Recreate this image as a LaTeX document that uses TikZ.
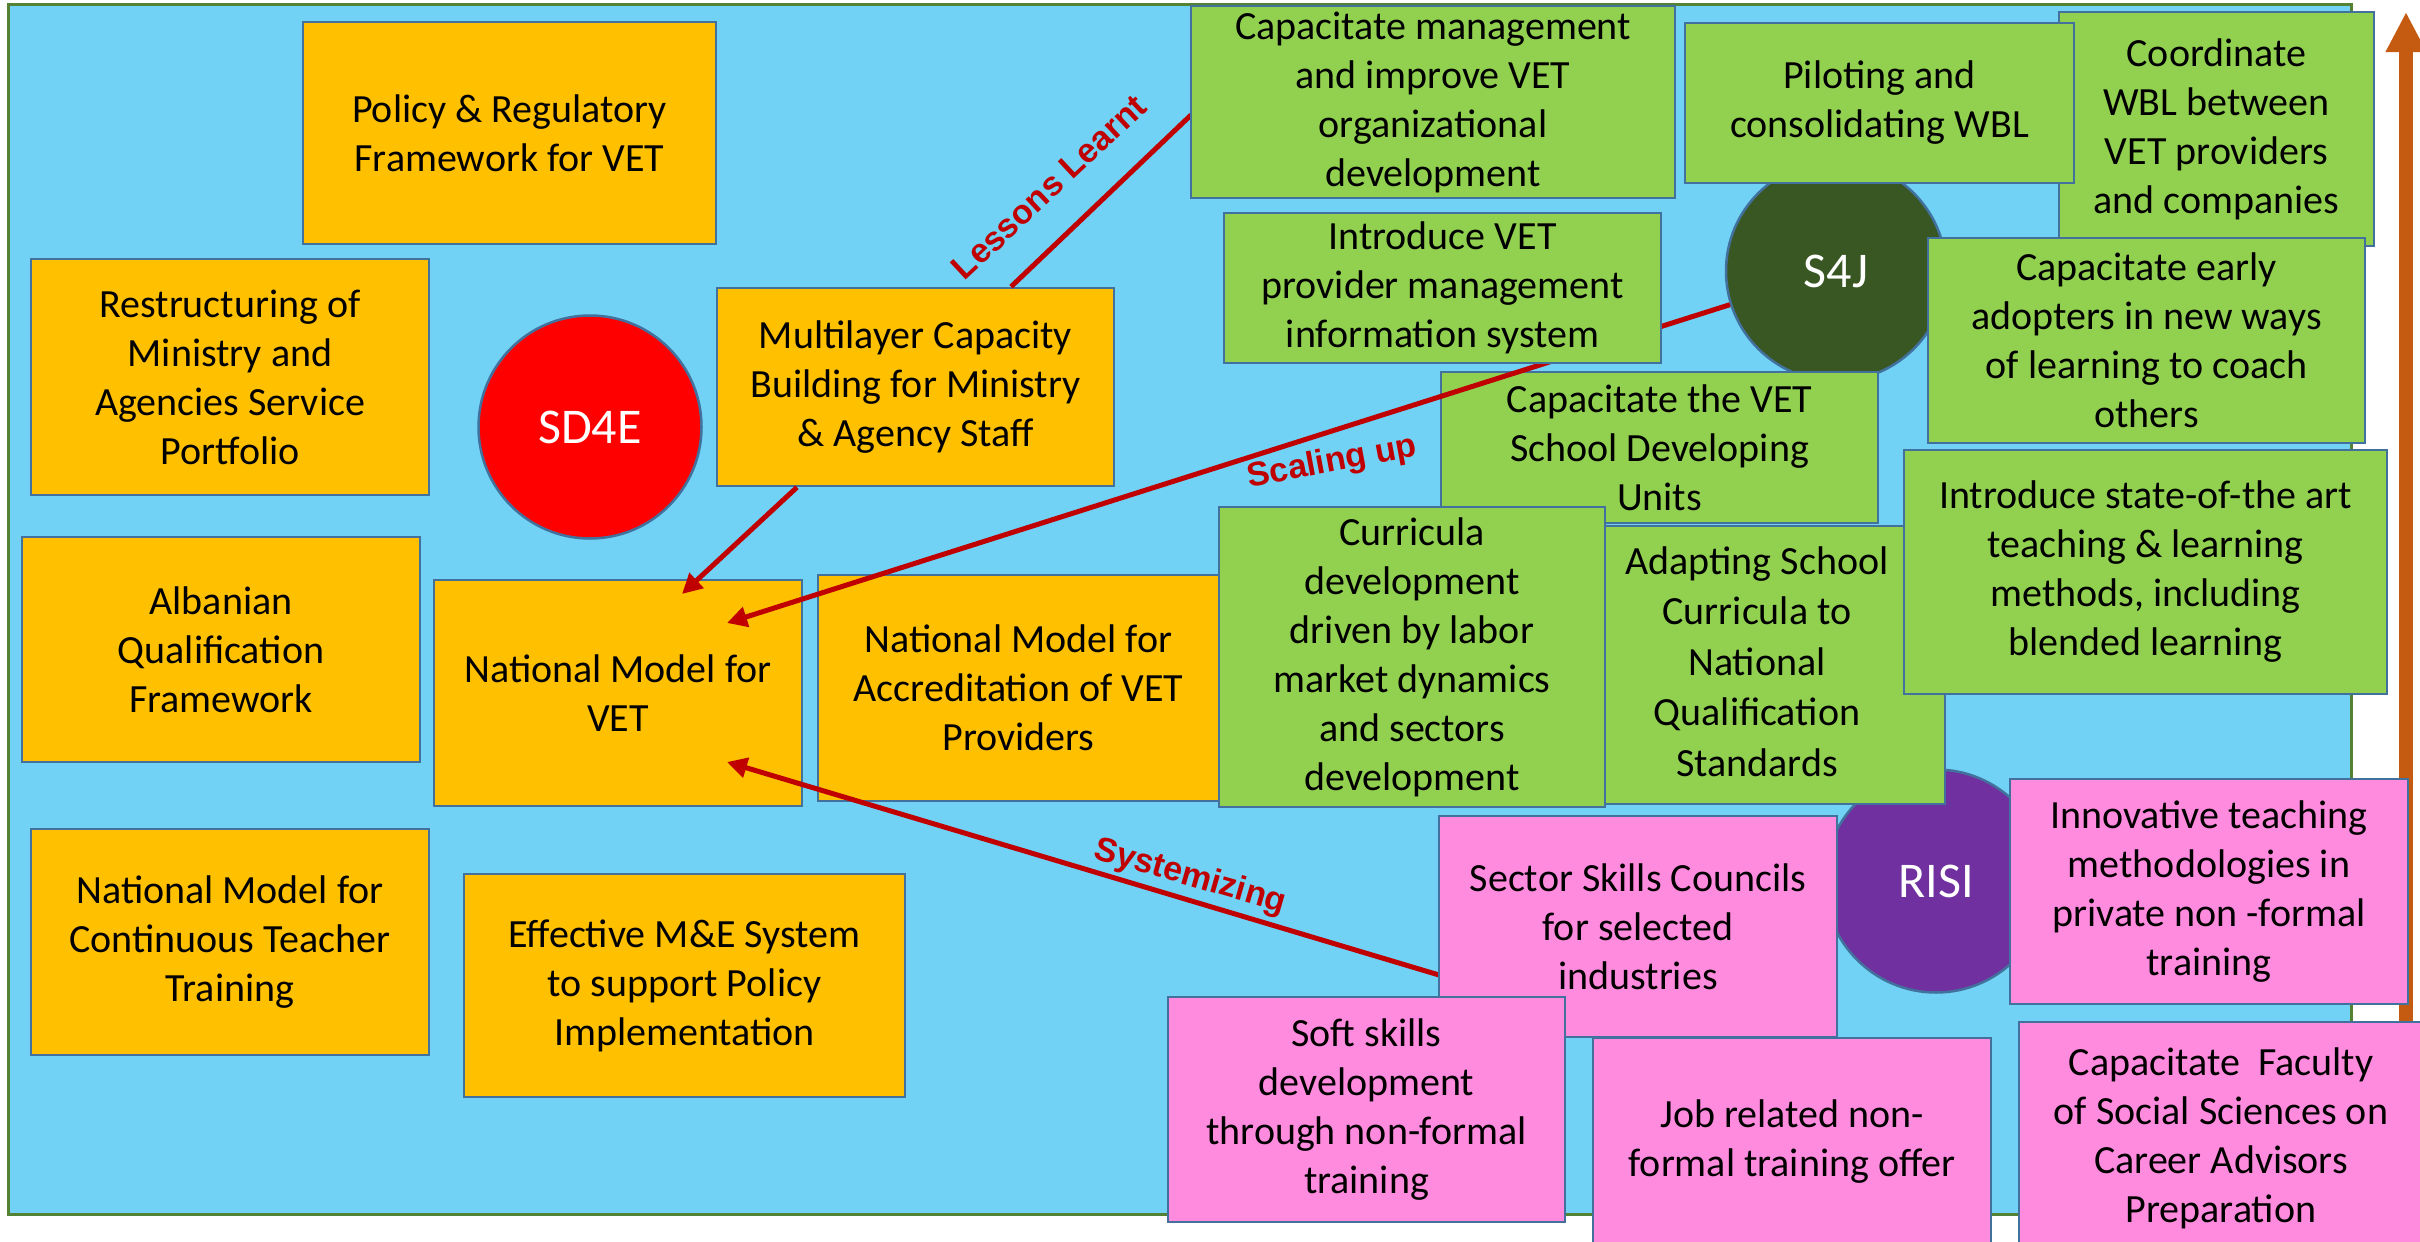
\documentclass[tikz,border=0pt]{standalone}
\usepackage{fontspec}
\setmainfont{Carlito}
\newfontfamily\lblfont{Liberation Sans}
\usetikzlibrary{arrows.meta}
\definecolor{bgblue}{HTML}{71D2F5}
\definecolor{bggreen}{HTML}{548235}
\definecolor{ored}{HTML}{FFC000}
\definecolor{ggreen}{HTML}{92D050}
\definecolor{ppink}{HTML}{FF8BDF}
\definecolor{boxedge}{HTML}{41719C}
\definecolor{lred}{HTML}{C00000}
\definecolor{aorange}{HTML}{C55A11}
\definecolor{sgreen}{HTML}{385723}
\definecolor{rpurple}{HTML}{7030A0}
\begin{document}
\begin{tikzpicture}[x=1pt,y=-1pt,
  box/.style={draw=boxedge, line width=2.5pt, align=center, inner sep=0pt, font=\fontsize{40}{49}\selectfont},
  obox/.style={box, fill=ored},
  gbox/.style={box, fill=ggreen},
  pbox/.style={box, fill=ppink},
  hub/.style={circle, draw=boxedge, line width=2.5pt, inner sep=0pt, text=white, minimum size=223pt, font=\fontsize{50}{60}\selectfont},
  link/.style={draw=lred, line width=5pt},
  linkarrow/.style={link, -{Triangle[length=20pt,width=20pt]}},
  lbl/.style={text=lred, font=\lblfont\bfseries\fontsize{34}{40}\selectfont, inner sep=0pt}
]
\useasboundingbox (0,0) rectangle (2420,1242);
\fill[bgblue, draw=bggreen, line width=3pt] (8,4) rectangle (2351,1214);

% vertical orange arrow
\coordinate (arrbase) at (2406,1030);
\coordinate (arrtip) at (2406,12);
\draw[aorange, line width=14pt, -{Triangle[length=40pt,width=38pt]}] (arrbase) -- (arrtip);

% hubs
\node[hub, fill=red] (sd4e) at (590,427) {SD4E};
\node[hub, fill=sgreen, minimum size=220pt] (s4j) at (1836,271) {S4J};
\node[hub, fill=rpurple] (risi) at (1936,881) {RISI};

% orange boxes
\node[obox, minimum width=413pt, minimum height=222pt] (pol) at (509.5,133) {Policy \& Regulatory\\Framework for VET};
\node[obox, minimum width=398pt, minimum height=236pt] (res) at (230,377) {Restructuring of\\Ministry and\\Agencies Service\\Portfolio};
\node[obox, minimum width=398pt, minimum height=225pt] (alb) at (221,649.5) {Albanian\\Qualification\\Framework};
\node[obox, minimum width=398pt, minimum height=226pt] (cont) at (230,942) {National Model for\\Continuous Teacher\\Training};
\node[obox, minimum width=441pt, minimum height=223pt] (mne) at (684.5,985.5) {Effective M\&E System\\to support Policy\\Implementation};
\node[obox, minimum width=397pt, minimum height=198pt] (mult) at (915.5,387) {Multilayer Capacity\\Building for Ministry\\\& Agency Staff};
\node[obox, minimum width=368pt, minimum height=226pt] (nmv) at (618,693) {National Model for\\VET};
\node[obox, minimum width=401pt, minimum height=226pt] (acc) at (1018.5,688) {National Model for\\Accreditation of VET\\Providers};

% connectors among orange boxes
\coordinate (tipA) at (682,594);
\coordinate (tipB) at (727,623);
\coordinate (tipC) at (727,762);
\draw[link] ([xshift=95.5pt]mult.north) -- (1191,115) coordinate (lessEnd);
\draw[linkarrow] ([yshift=-48.5pt]1439,926.5) coordinate (systStart) -- (tipC);
\draw[linkarrow] ([xshift=-118.5pt]mult.south) -- (tipA);

% green boxes
\node[gbox, minimum width=315pt, minimum height=234pt] (coord) at (2216.5,129) {Coordinate\\WBL between\\VET providers\\and companies};
\node[gbox, minimum width=389pt, minimum height=160pt] (pil) at (1879.5,103) {Piloting and\\consolidating WBL};
\node[gbox, minimum width=484pt, minimum height=192pt] (capm) at (1433,102) {Capacitate management\\and improve VET\\organizational\\development};
\node[gbox, minimum width=437pt, minimum height=205pt] (early) at (2146.5,340.5) {Capacitate early\\adopters in new ways\\of learning to coach\\others};
\node[gbox, minimum width=437pt, minimum height=151pt] (school) at (1659.5,447.5) {Capacitate the VET\\School Developing\\Units};
\node[gbox, minimum width=340pt, minimum height=278pt] (adapt) at (1775,665) {\hspace*{-36pt}\renewcommand{\arraystretch}{1.03}\begin{tabular}{@{}c@{}}Adapting School\\Curricula to\\National\\Qualification\\Standards\end{tabular}};
\node[gbox, minimum width=386pt, minimum height=300pt] (curr) at (1412,657) {Curricula\\development\\driven by labor\\market dynamics\\and sectors\\development};
\node[gbox, minimum width=483pt, minimum height=244pt] (state) at (2145.5,572) {Introduce state-of-the art\\teaching \& learning\\methods, including\\blended learning};

\draw[linkarrow] (s4j) -- (tipB);

\node[gbox, minimum width=437pt, minimum height=150pt] (intro) at (1442.5,288) {Introduce VET\\provider management\\information system};

% pink boxes
\node[pbox, minimum width=398pt, minimum height=221pt] (ssc) at (1638,926.5) {Sector Skills Councils\\for selected\\industries};
\node[pbox, minimum width=397pt, minimum height=225pt] (soft) at (1366.5,1109.5) {Soft skills\\development\\through non-formal\\training};
\node[pbox, minimum width=398pt, minimum height=208pt] (job) at (1792,1142) {Job related non-\\formal training offer};
\node[pbox, minimum width=398pt, minimum height=225pt] (innov) at (2209,891.5) {Innovative teaching\\methodologies in\\private non -formal\\training};
\node[pbox, minimum width=404pt, minimum height=232pt] (fac) at (2221,1138) {Capacitate~ Faculty\\of Social Sciences on\\Career Advisors\\Preparation};

% connector labels
\node[lbl, rotate=43] (lessons) at (1049,187) {Lessons Learnt};
\node[lbl, rotate=10.6] (scaling) at (1332,463) {Scaling up};
\node[lbl, rotate=-16] (syst) at (1190,877) {Systemizing};
\end{tikzpicture}
\end{document}
